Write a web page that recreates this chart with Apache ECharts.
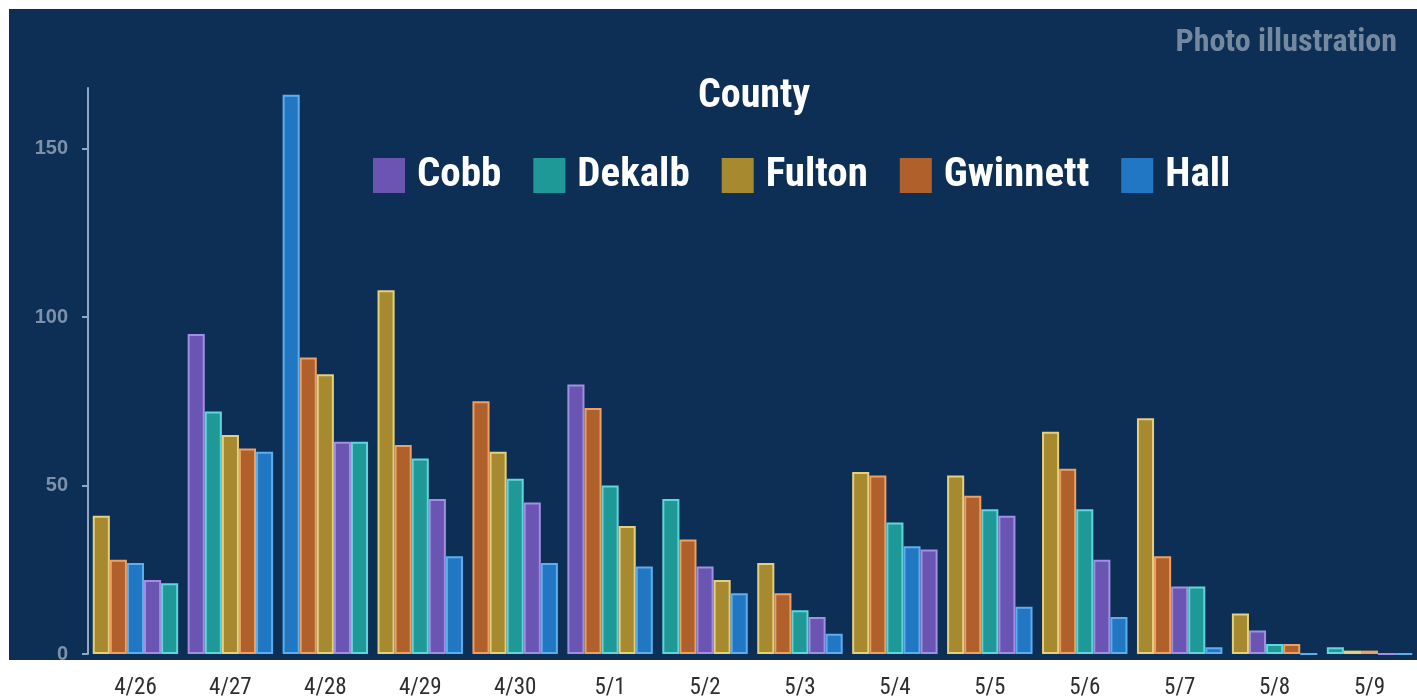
<!DOCTYPE html>
<html>
<head>
<meta charset="utf-8">
<script src="https://cdn.jsdelivr.net/npm/echarts@6/dist/echarts.min.js"></script>
<style>
  html, body { margin: 0; padding: 0; background: #fff; }
  #chart { width: 1417px; height: 700px; }
</style>
</head>
<body>
<div id="chart"></div>
<script>
const dates = ["4/26", "4/27", "4/28", "4/29", "4/30", "5/1", "5/2", "5/3", "5/4", "5/5", "5/6", "5/7", "5/8", "5/9"]
const counties = ["Cobb", "Dekalb", "Fulton", "Gwinnett", "Hall"]

const cobb = [22, 95, 63, 46, 45, 80, 26, 11, 31, 41, 28, 20, 7, 0]
const dekalb = [21, 72, 63, 58, 52, 50, 46, 13, 39, 43, 43, 20, 3, 2]
const fulton = [41, 65, 83, 108, 60, 38, 22, 27, 54, 53, 66, 70, 12, 1]
const gwinnett = [28, 61, 88, 62, 75, 73, 34, 18, 53, 47, 55, 29, 3, 1]
const hall = [27, 60, 166, 29, 27, 26, 18, 6, 32, 14, 11, 2, 0, 0]

const yTicks = [0, 50, 100, 150]

const values = [cobb, dekalb, fulton, gwinnett, hall]
const fills = ["#6b55b3", "#1f9997", "#a78a30", "#b0602b", "#2277c3"]
const borders = ["#a18fe4", "#62d5da", "#e5d07c", "#eea062", "#5caeee"]

const narrow = "'Liberation Sans Narrow', 'Roboto Condensed', 'DejaVu Sans Condensed', 'Liberation Sans', sans-serif"

// bars inside each date are ordered tallest first
const order = dates.map((d, i) =>
  counties.map((c, j) => j).sort((a, b) => values[b][i] - values[a][i] || a - b)
)

const rankSeries = counties.map((c, k) => ({
  name: "rank" + (k + 1),
  type: "bar",
  barGap: 0,
  barCategoryGap: "10%",
  z: 3,
  data: dates.map((d, i) => {
    const j = order[i][k]
    return {
      value: values[j][i],
      itemStyle: { color: fills[j], borderColor: borders[j], borderWidth: 2 },
    }
  }),
}))

// empty series only for the legend swatches
const legendSeries = counties.map((c, j) => ({
  name: c,
  type: "line",
  data: [],
  color: fills[j],
  itemStyle: { color: fills[j] },
}))

const chart = echarts.init(document.getElementById("chart"))

const option = {
  backgroundColor: "#ffffff",
  animation: false,
  graphic: [
    {
      type: "rect",
      z: -10,
      shape: { x: 9, y: 9, width: 1408, height: 651 },
      style: { fill: "#0d2f55" },
    },
    {
      type: "text",
      z: 10,
      style: {
        x: 754, y: 97, text: "County",
        fill: "#ffffff", font: "bold 40px " + narrow,
        textAlign: "center", textVerticalAlign: "middle",
      },
    },
    {
      type: "text",
      z: 10,
      style: {
        x: 1397, y: 43, text: "Photo illustration",
        fill: "#74899f", font: "bold 32px " + narrow,
        textAlign: "right", textVerticalAlign: "middle",
      },
    },
  ],
  legend: {
    data: counties,
    left: 368,
    top: 150,
    icon: "rect",
    itemWidth: 32,
    itemHeight: 35,
    itemGap: 32,
    textStyle: {
      color: "#ffffff",
      fontSize: 41,
      fontWeight: "bold",
      fontFamily: narrow,
      padding: [0, 0, 4, 7],
    },
  },
  grid: { left: 88, right: -8, top: 88, bottom: 42, containLabel: false },
  xAxis: {
    type: "category",
    data: dates,
    axisLine: { show: false },
    axisTick: { show: false },
    axisLabel: { color: "#2e2e2e", fontSize: 23, fontFamily: narrow, margin: 23 },
  },
  yAxis: {
    type: "value",
    min: 0,
    max: 168,
    interval: 50,
    splitLine: { show: false },
    axisLine: { show: true, lineStyle: { color: "#8ea7c6", width: 2 } },
    axisTick: { show: true, length: 6, lineStyle: { color: "#8ea7c6", width: 2 } },
    axisLabel: {
      color: "#7d91ab",
      fontSize: 20,
      fontWeight: "bold",
      fontFamily: "'Liberation Sans', Arial, sans-serif",
      margin: 20,
      showMaxLabel: false,
      formatter: (v) => (yTicks.includes(v) ? String(v) : ""),
    },
  },
  series: [...rankSeries, ...legendSeries],
}

chart.setOption(option)
</script>
</body>
</html>
